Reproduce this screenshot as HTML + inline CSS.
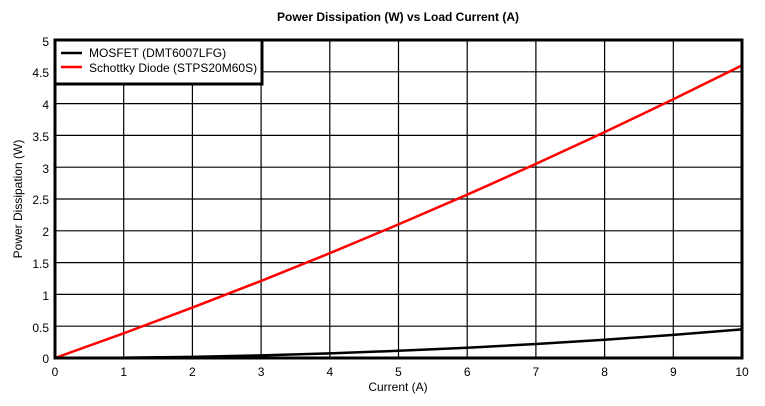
<!DOCTYPE html>
<html><head><style>body{margin:0;background:#fff}svg{display:block}text{font-family:"Liberation Sans",sans-serif;font-size:12px;fill:#000}</style></head><body>
<svg width="765" height="406" xmlns="http://www.w3.org/2000/svg">
<text x="398" y="21" text-anchor="middle" font-weight="bold">Power Dissipation (W) vs Load Current (A)</text>
<g stroke="#000" stroke-width="1.2">
<line x1="123.7" y1="40" x2="123.7" y2="358"/><line x1="192.4" y1="40" x2="192.4" y2="358"/><line x1="261.1" y1="40" x2="261.1" y2="358"/><line x1="329.8" y1="40" x2="329.8" y2="358"/><line x1="398.5" y1="40" x2="398.5" y2="358"/><line x1="467.2" y1="40" x2="467.2" y2="358"/><line x1="535.9" y1="40" x2="535.9" y2="358"/><line x1="604.6" y1="40" x2="604.6" y2="358"/><line x1="673.3" y1="40" x2="673.3" y2="358"/>
<line x1="55" y1="71.8" x2="742" y2="71.8"/><line x1="55" y1="103.6" x2="742" y2="103.6"/><line x1="55" y1="135.4" x2="742" y2="135.4"/><line x1="55" y1="167.2" x2="742" y2="167.2"/><line x1="55" y1="199" x2="742" y2="199"/><line x1="55" y1="230.8" x2="742" y2="230.8"/><line x1="55" y1="262.6" x2="742" y2="262.6"/><line x1="55" y1="294.4" x2="742" y2="294.4"/><line x1="55" y1="326.2" x2="742" y2="326.2"/>
</g>
<polyline fill="none" stroke="#000" stroke-width="2.5" points="55,358 123.7,357.7 192.4,356.9 261.1,355.4 329.8,353.4 398.5,350.8 467.2,347.7 535.9,344 604.6,339.7 673.3,334.9 742,329.4"/>
<polyline fill="none" stroke="#f00" stroke-width="2.5" points="55,358 123.7,333.3 192.4,307.6 261.1,280.9 329.8,253.2 398.5,224.4 467.2,194.7 535.9,163.9 604.6,132.1 673.3,99.3 742,65.4"/>
<rect x="55" y="40" width="687" height="318" fill="none" stroke="#000" stroke-width="3"/>
<rect x="55" y="40" width="207" height="44" fill="#fff" stroke="#000" stroke-width="3"/>
<line x1="61" y1="53" x2="82" y2="53" stroke="#000" stroke-width="2.5"/>
<line x1="61" y1="67" x2="82" y2="67" stroke="#f00" stroke-width="2.5"/>
<text x="89" y="57">MOSFET (DMT6007LFG)</text>
<text x="89" y="72">Schottky Diode (STPS20M60S)</text>
<g text-anchor="end">
<text x="49" y="46">5</text><text x="49" y="77">4.5</text><text x="49" y="109">4</text><text x="49" y="141">3.5</text><text x="49" y="173">3</text><text x="49" y="204">2.5</text><text x="49" y="236">2</text><text x="49" y="268">1.5</text><text x="49" y="300">1</text><text x="49" y="332">0.5</text><text x="49" y="363">0</text>
</g>
<g text-anchor="middle">
<text x="55" y="376">0</text><text x="123.7" y="376">1</text><text x="192.4" y="376">2</text><text x="261.1" y="376">3</text><text x="329.8" y="376">4</text><text x="398.5" y="376">5</text><text x="467.2" y="376">6</text><text x="535.9" y="376">7</text><text x="604.6" y="376">8</text><text x="673.3" y="376">9</text><text x="742" y="376">10</text>
<text x="398" y="391">Current (A)</text>
<text transform="translate(22,199) rotate(-90)">Power Dissipation (W)</text>
</g>
</svg>
</body></html>
